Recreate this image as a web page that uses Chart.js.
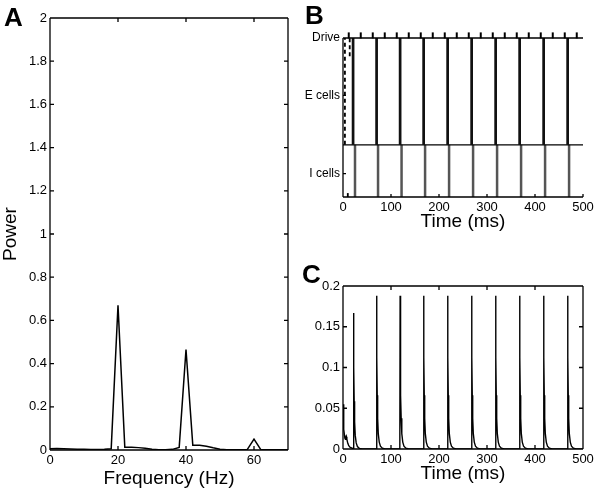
<!DOCTYPE html>
<html>
<head>
<meta charset="utf-8">
<script src="https://cdn.jsdelivr.net/npm/chart.js@4.4.0/dist/chart.umd.min.js"></script>
<style>
  html, body { margin: 0; padding: 0; background: #fff; }
  #wrap { position: relative; width: 600px; height: 494px; overflow: hidden; }
  #wrap canvas { position: absolute; left: 0; top: 0; }
  .tag { position: absolute; font: bold 26px "Liberation Sans", Arial, sans-serif; line-height: 1; color: #000; }
</style>
</head>
<body>
<div id="wrap">
  <canvas id="chartA" width="600" height="494"></canvas>
  <canvas id="chartB" width="600" height="494"></canvas>
  <canvas id="chartC" width="600" height="494"></canvas>
  <div class="tag" style="left:4px;top:4px">A</div>
  <div class="tag" style="left:305px;top:2px">B</div>
  <div class="tag" style="left:302px;top:261px">C</div>
</div>
<script>
// --- A: power spectrum
const freqHz = [0, 2, 4, 6, 8, 10, 12, 14, 16, 18, 20, 22, 24, 26, 28, 30, 32, 34,
                36, 38, 40, 42, 44, 46, 48, 50, 52, 54, 56, 58, 60, 62, 64, 66, 68, 70];
const power = [0.006, 0.007, 0.006, 0.005, 0.004, 0.003, 0.002, 0.002, 0.003, 0.006, 0.67, 0.013,
               0.013, 0.011, 0.008, 0.004, 0.001, 0.001, 0.003, 0.012, 0.465, 0.022, 0.022, 0.017,
               0.01, 0.004, 0.001, 0.001, 0.001, 0.002, 0.05, 0.002, 0.001, 0.001, 0.001, 0.001];
const freqTicks = [0, 20, 40, 60];
const powerTicks = [0, 0.2, 0.4, 0.6, 0.8, 1, 1.2, 1.4, 1.6, 1.8, 2];

// --- B: raster
const driveTimes = [12, 37, 62, 87, 112, 137, 162, 187, 212, 237, 262, 287, 312, 337, 362, 387, 412, 437, 462, 487];
const eSpikeTimes = [21, 70, 119, 168, 218, 268, 318, 368, 418, 468];
const iSpikeTimes = [25, 73, 122, 171, 221, 271, 321, 371, 421, 471];
const eEarlyTimes = [4, 14];
const eEarlyLow = [20, 54];
const iEarlyTimes = [10];
const rowLevels = [9, 39, 61];
const rowLabels = ['I cells', 'E cells', 'Drive'];
const iRow = [0, 20];   // I cells span
const eRow = [20, 61];  // E cells span
const driveRow = 62;
const timeTicks = [0, 100, 200, 300, 400, 500];

// --- C: synaptic gating trace
const cStartT = [0, 1, 2, 3, 4, 5, 6, 7, 8, 10, 12, 15, 19];
const cStartV = [0.055, 0.036, 0.024, 0.017, 0.013, 0.012, 0.013, 0.015, 0.012, 0.007, 0.004, 0.002, 0.001];
const cPeakT = [22, 70, 119, 168, 218, 268, 318, 368, 418, 468];
const cPeakV = [0.167, 0.188, 0.188, 0.188, 0.188, 0.188, 0.188, 0.188, 0.188, 0.188];
const decayDt = [-0.6, 0, 0.6, 1.3, 2.2, 3.5, 5.5, 8, 12, 18];
const decayFrac = [0, 1, 0.6, 0.35, 0.2, 0.1, 0.045, 0.018, 0.005, 0];
const cTailT = [500];
const cTailV = [0];
const gTicks = [0, 0.05, 0.1, 0.15, 0.2];

const FAMILY = "'Liberation Sans', Arial, Helvetica, sans-serif";
const tickFont = { family: FAMILY, size: 13 };
const titleFont = { family: FAMILY, size: 19, lineHeight: 1.1 };

// matlab-like box with inward ticks
const boxTicks = {
  id: 'boxTicks',
  afterDatasetsDraw(chart, args, opts) {
    const { ctx, chartArea: a } = chart;
    const x = chart.scales.x, y = chart.scales.y;
    const len = opts.len || 4;
    const sides = opts.sides || 'tlbr';
    ctx.save();
    ctx.strokeStyle = '#000';
    ctx.lineWidth = 1.3;
    ctx.beginPath();
    if (sides.includes('t')) { ctx.moveTo(a.left, a.top); ctx.lineTo(a.right, a.top); }
    if (sides.includes('b')) { ctx.moveTo(a.left, a.bottom); ctx.lineTo(a.right, a.bottom); }
    if (sides.includes('l')) { ctx.moveTo(a.left, a.top); ctx.lineTo(a.left, a.bottom); }
    if (sides.includes('r')) { ctx.moveTo(a.right, a.top); ctx.lineTo(a.right, a.bottom); }
    for (const t of x.ticks) {
      const px = x.getPixelForValue(t.value);
      ctx.moveTo(px, a.bottom); ctx.lineTo(px, a.bottom - len);
      if (opts.mirror) { ctx.moveTo(px, a.top); ctx.lineTo(px, a.top + len); }
    }
    for (const t of y.ticks) {
      const py = y.getPixelForValue(t.value);
      if (py < a.top - 0.5) continue;
      ctx.moveTo(a.left, py); ctx.lineTo(a.left + len, py);
      if (opts.mirror) { ctx.moveTo(a.right, py); ctx.lineTo(a.right - len, py); }
    }
    ctx.stroke();
    ctx.restore();
  }
};

function axis(min, max, tickList, size, horiz, extra) {
  return Object.assign({
    type: 'linear', min: min, max: max,
    afterBuildTicks: s => { s.ticks = tickList.map(v => ({ value: v })); },
    afterFit: s => { if (horiz) s.height = size; else s.width = size; },
    grid: { display: false, drawTicks: false },
    border: { display: false },
    ticks: { font: tickFont, color: '#000', padding: 3, maxRotation: 0, autoSkip: false,
             callback: v => String(v) }
  }, extra);
}

function baseOptions(padding, boxOpts, scales) {
  return {
    responsive: false,
    animation: false,
    layout: { padding: padding },
    elements: { point: { radius: 0 }, line: { tension: 0 } },
    plugins: { legend: { display: false }, tooltip: { enabled: false }, boxTicks: boxOpts },
    scales: scales
  };
}

// ---------- A
new Chart(document.getElementById('chartA'), {
  type: 'line',
  data: {
    datasets: [{
      data: freqHz.map((f, i) => ({ x: f, y: power[i] })),
      borderColor: '#000',
      borderWidth: 1.5
    }]
  },
  options: baseOptions({ left: 0, right: 312, top: 18, bottom: 0 }, { sides: 'tlbr', mirror: true }, {
    x: axis(0, 70, freqTicks, 44, true, {
      title: { display: true, text: 'Frequency (Hz)', font: titleFont, color: '#000', padding: { top: 0, bottom: 5 } }
    }),
    y: axis(0, 2, powerTicks, 50, false, {
      title: { display: true, text: 'Power', font: titleFont, color: '#000', padding: { top: 0, bottom: 0 } }
    })
  }),
  plugins: [boxTicks]
});

// ---------- B
function segments(times, lows, high) {
  const pts = [];
  times.forEach((t, i) => {
    const lo = Array.isArray(lows) ? lows[i] : lows;
    pts.push({ x: t, y: lo }, { x: t, y: high }, { x: t, y: null });
  });
  return pts;
}

new Chart(document.getElementById('chartB'), {
  type: 'line',
  data: {
    datasets: [
      { data: [{ x: 0, y: iRow[1] }, { x: 500, y: iRow[1] }], borderColor: '#000', borderWidth: 1.3 },
      { data: segments(eSpikeTimes, eRow[0], eRow[1]), borderColor: '#111', borderWidth: 2.7, spanGaps: false },
      { data: segments(iSpikeTimes, iRow[0], iRow[1]), borderColor: '#555', borderWidth: 2.5, spanGaps: false },
      { data: segments(eEarlyTimes, eEarlyLow, eRow[1]), borderColor: '#000', borderWidth: 1.8,
        borderDash: [4, 3], spanGaps: false },
      { data: segments(iEarlyTimes, iRow[0], 1.5), borderColor: '#000', borderWidth: 1.8, spanGaps: false },
      { data: driveTimes.map(t => ({ x: t, y: driveRow })), showLine: false, pointStyle: 'line',
        pointRotation: 90, pointRadius: 3, pointBorderWidth: 2, pointBorderColor: '#000', clip: false }
    ]
  },
  options: baseOptions({ left: 290, right: 17, top: 38, bottom: 261.5 }, { sides: 'tlb', mirror: false, len: 3 }, {
    x: axis(0, 500, timeTicks, 35.5, true, {
      title: { display: true, text: 'Time (ms)', font: titleFont, color: '#000', padding: { top: 0, bottom: 0 } }
    }),
    y: axis(0, 61, rowLevels, 53, false, {
      ticks: { font: { family: FAMILY, size: 12 }, color: '#000', padding: 3, autoSkip: false,
               callback: (v, i) => rowLabels[i] }
    })
  }),
  plugins: [boxTicks]
});

// ---------- C
const cTrace = cStartT.map((t, i) => ({ x: t, y: cStartV[i] }));
cPeakT.forEach((t, k) => {
  decayDt.forEach((d, j) => cTrace.push({ x: t + d, y: cPeakV[k] * decayFrac[j] }));
});
cTailT.forEach((t, i) => cTrace.push({ x: t, y: cTailV[i] }));

new Chart(document.getElementById('chartC'), {
  type: 'line',
  data: {
    datasets: [{ data: cTrace, borderColor: '#000', borderWidth: 1.4 }]
  },
  options: baseOptions({ left: 290, right: 17, top: 286, bottom: 9.5 }, { sides: 'tlbr', mirror: true }, {
    x: axis(0, 500, timeTicks, 35.5, true, {
      title: { display: true, text: 'Time (ms)', font: titleFont, color: '#000', padding: { top: 0, bottom: 0 } }
    }),
    y: axis(0, 0.2, gTicks, 53, false, {})
  }),
  plugins: [boxTicks]
});
</script>
</body>
</html>
